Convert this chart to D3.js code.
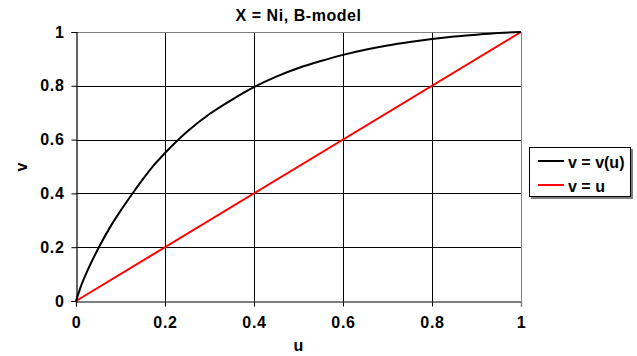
<!DOCTYPE html>
<html>
<head>
<meta charset="utf-8">
<script src="https://cdn.jsdelivr.net/npm/d3@7"></script>
<style>
  body { margin: 0; background: #fff; }
  text { font-family: "Liberation Sans", Arial, sans-serif; font-weight: bold; fill: #000; }
</style>
</head>
<body>
<div id="chart"></div>
<script>
// curve v = v(u)
const uValues = [0, 0.01, 0.025, 0.05, 0.075, 0.1, 0.125, 0.15, 0.175, 0.2, 0.25, 0.3, 0.35, 0.4, 0.45, 0.5, 0.55, 0.6, 0.65, 0.7, 0.75, 0.8, 0.85, 0.9, 0.95, 1];
const vValues = [0, 0.05, 0.11, 0.195, 0.27, 0.335, 0.395, 0.452, 0.505, 0.55, 0.63, 0.695, 0.748, 0.795, 0.834, 0.866, 0.892, 0.915, 0.934, 0.95, 0.963, 0.974, 0.983, 0.99, 0.996, 1];
// reference line v = u
const diagU = [0, 1];
const diagV = [0, 1];
const tickValues = [0, 0.2, 0.4, 0.6, 0.8, 1];
const seriesNames = ["v = v(u)", "v = u"];
const seriesColors = ["#000000", "#ff0000"];

const W = 637, H = 356;
const margin = { top: 32, right: 116, bottom: 55, left: 76 };
const width = W - margin.left - margin.right;
const height = H - margin.top - margin.bottom;

const svg = d3.select("#chart").append("svg")
    .attr("width", W)
    .attr("height", H);

const g = svg.append("g")
    .attr("transform", "translate(" + margin.left + "," + margin.top + ")");

const x = d3.scaleLinear().domain([0, 1]).range([0, width]);
const y = d3.scaleLinear().domain([0, 1]).range([height, 0]);

// grid
g.selectAll(".vgrid").data(tickValues.slice(1, -1)).enter().append("line")
    .attr("x1", d => Math.round(x(d)) + 0.5).attr("x2", d => Math.round(x(d)) + 0.5)
    .attr("y1", 0).attr("y2", height)
    .attr("stroke", "#000").attr("stroke-width", 1);
g.selectAll(".hgrid").data(tickValues.slice(1, -1)).enter().append("line")
    .attr("y1", d => Math.round(y(d)) + 0.5).attr("y2", d => Math.round(y(d)) + 0.5)
    .attr("x1", 0).attr("x2", width)
    .attr("stroke", "#000").attr("stroke-width", 1);

// top and right frame (grey)
g.append("line").attr("x1", 0).attr("x2", width).attr("y1", 0.5).attr("y2", 0.5)
    .attr("stroke", "#808080");
g.append("line").attr("x1", width + 0.5).attr("x2", width + 0.5).attr("y1", 0).attr("y2", height)
    .attr("stroke", "#808080");

// axes
const xAxis = g.append("g")
    .attr("transform", "translate(0," + (height + 0.5) + ")")
    .call(d3.axisBottom(x).tickValues(tickValues).tickSize(5).tickPadding(10).tickFormat(d3.format("")));
const yAxis = g.append("g")
    .attr("transform", "translate(0.5,0)")
    .call(d3.axisLeft(y).tickValues(tickValues).tickSize(5).tickPadding(7).tickFormat(d3.format("")));

[xAxis, yAxis].forEach(a => {
    a.select(".domain").attr("stroke", "#000").attr("stroke-width", 1.2);
    a.selectAll(".tick line").attr("stroke", "#000");
    a.selectAll(".tick text")
        .style("font-size", "16px")
        .style("letter-spacing", "0.7px")
        .style("font-family", "Liberation Sans, Arial, sans-serif")
        .style("font-weight", "bold");
});
xAxis.selectAll(".tick line").filter(d => d === 1).attr("stroke", "#808080");

// lines
const line = d3.line().x(d => x(d[0])).y(d => y(d[1]));
g.append("path")
    .datum(diagU.map((u, i) => [u, diagV[i]]))
    .attr("d", line)
    .attr("fill", "none")
    .attr("stroke", seriesColors[1])
    .attr("stroke-width", 2);
g.append("path")
    .datum(uValues.map((u, i) => [u, vValues[i]]))
    .attr("d", line.curve(d3.curveMonotoneX))
    .attr("fill", "none")
    .attr("stroke", seriesColors[0])
    .attr("stroke-width", 2);

// title and axis labels
svg.append("text")
    .attr("x", margin.left + width / 2)
    .attr("y", 21)
    .attr("text-anchor", "middle")
    .style("font-size", "16px")
    .style("letter-spacing", "0.55px")
    .text("X = Ni, B-model");
svg.append("text")
    .attr("x", margin.left + width / 2)
    .attr("y", 351)
    .attr("text-anchor", "middle")
    .style("font-size", "16px")
    .text("u");
svg.append("text")
    .attr("transform", "translate(27,167) rotate(-90)")
    .attr("text-anchor", "middle")
    .style("font-size", "16px")
    .text("v");

// legend
const lg = svg.append("g").attr("transform", "translate(529,147)");
lg.append("rect").attr("x", 2).attr("y", 2).attr("width", 102).attr("height", 50).attr("fill", "#808080");
lg.append("rect").attr("x", 0.5).attr("y", 0.5).attr("width", 101).attr("height", 49)
    .attr("fill", "#fff").attr("stroke", "#000");
seriesNames.forEach((name, i) => {
    const ly = 14 + i * 24;
    lg.append("line").attr("x1", 9).attr("x2", 35).attr("y1", ly).attr("y2", ly)
        .attr("stroke", seriesColors[i]).attr("stroke-width", 2);
    lg.append("text").attr("x", 39).attr("y", ly + 6.5)
        .style("font-size", "16px").text(name);
});
</script>
</body>
</html>
